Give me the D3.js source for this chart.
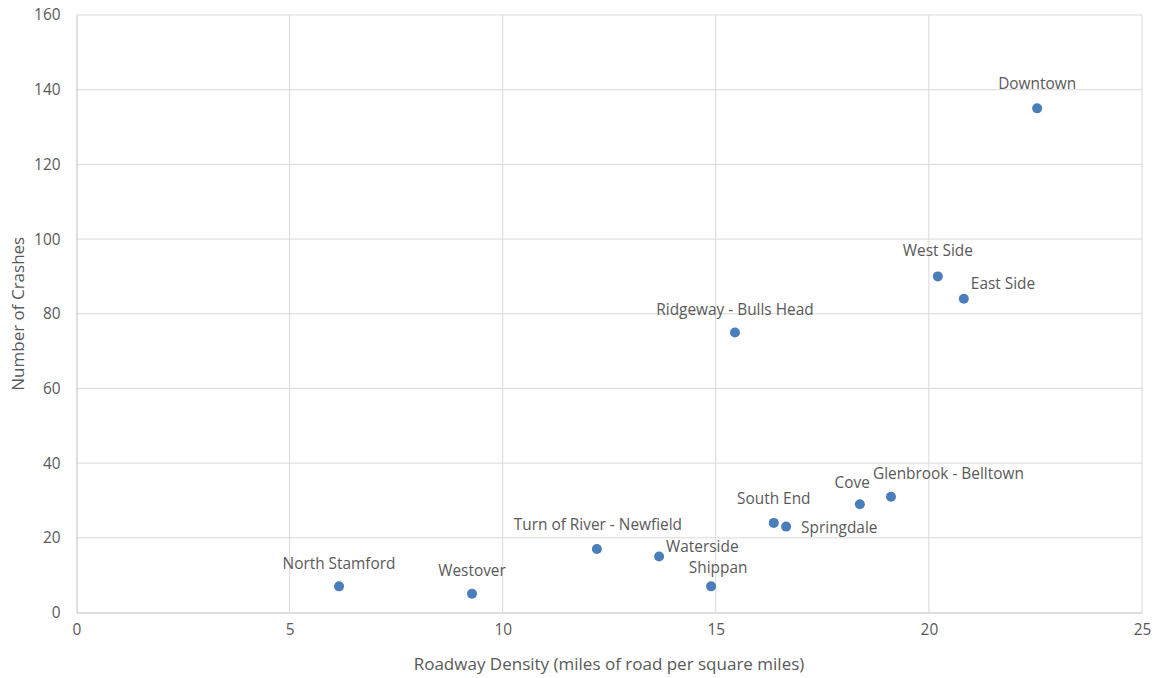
<!DOCTYPE html>
<html><head><meta charset="utf-8">
<script src="https://cdn.jsdelivr.net/npm/d3@7"></script>
<style>
body{margin:0;background:#fff;}
text{font-family:"Open Sans",sans-serif;fill:#595959;}
</style></head>
<body><svg id="c" width="1157" height="678"></svg>
<script>
const neighborhoods = ["North Stamford","Westover","Turn of River - Newfield","Waterside","Shippan","Ridgeway - Bulls Head","South End","Springdale","Cove","Glenbrook - Belltown","West Side","East Side","Downtown"];
const roadwayDensity = [6.16,9.28,12.21,13.67,14.89,15.45,16.36,16.65,18.38,19.11,20.21,20.82,22.54];
const crashes = [7,5,17,15,7,75,24,23,29,31,90,84,135];
const xTicks = [0,5,10,15,20,25];
const yTicks = [0,20,40,60,80,100,120,140,160];
// label placement: [anchor, dx, dy]
const labelPlacement = [
 ["middle",0,-23],["middle",0,-23],["middle",1,-25],["start",7,-10],["middle",7,-19],
 ["middle",0,-23],["middle",0,-24],["start",15,1],["end",10,-22],["start",-18,-23],
 ["middle",0,-26],["start",7,-15],["middle",0,-25]
];
const svg = d3.select("#c");
const m = {l:76.5, r:1142, t:15, b:612.5};
const x = d3.scaleLinear().domain([0,25]).range([m.l,m.r]);
const y = d3.scaleLinear().domain([0,160]).range([m.b,m.t]);
const g = svg.append("g");
g.selectAll(".gx").data(xTicks.slice(1)).enter().append("line")
 .attr("x1",d=>x(d)).attr("x2",d=>x(d)).attr("y1",m.t).attr("y2",m.b)
 .attr("stroke","#d9d9d9").attr("stroke-width",1);
g.selectAll(".gy").data(yTicks.slice(1)).enter().append("line")
 .attr("y1",d=>y(d)).attr("y2",d=>y(d)).attr("x1",m.l).attr("x2",m.r)
 .attr("stroke","#d9d9d9").attr("stroke-width",1);
const xa = svg.append("g").attr("transform",`translate(0,${m.b})`)
 .call(d3.axisBottom(x).tickValues(xTicks).tickSize(0).tickPadding(12));
xa.select(".domain").attr("stroke","#bfbfbf");
const ya = svg.append("g").attr("transform",`translate(${m.l},0)`)
 .call(d3.axisLeft(y).tickValues(yTicks).tickSize(0).tickPadding(16));
ya.select(".domain").attr("stroke","#bfbfbf");
svg.selectAll(".tick text").attr("font-size","15.4px").attr("fill","#595959").attr("font-family","'Open Sans',sans-serif");
svg.selectAll(".pt").data(crashes).enter().append("circle")
 .attr("cx",(d,i)=>x(roadwayDensity[i])).attr("cy",d=>y(d)).attr("r",5)
 .attr("fill","#4a7ebb");
svg.selectAll(".lb").data(neighborhoods).enter().append("text")
 .attr("x",(d,i)=>x(roadwayDensity[i])+labelPlacement[i][1])
 .attr("y",(d,i)=>y(crashes[i])+labelPlacement[i][2])
 .attr("text-anchor",(d,i)=>labelPlacement[i][0])
 .attr("dominant-baseline","central")
 .attr("font-size","15.4px").text(d=>d);
svg.append("text").attr("x",609).attr("y",663).attr("text-anchor","middle")
 .attr("dominant-baseline","central").attr("font-size","17px").text("Roadway Density (miles of road per square miles)");
svg.append("text").attr("transform",`translate(17,${(m.t+m.b)/2}) rotate(-90)`).attr("text-anchor","middle")
 .attr("dominant-baseline","central").attr("font-size","17px").text("Number of Crashes");
</script></body></html>
